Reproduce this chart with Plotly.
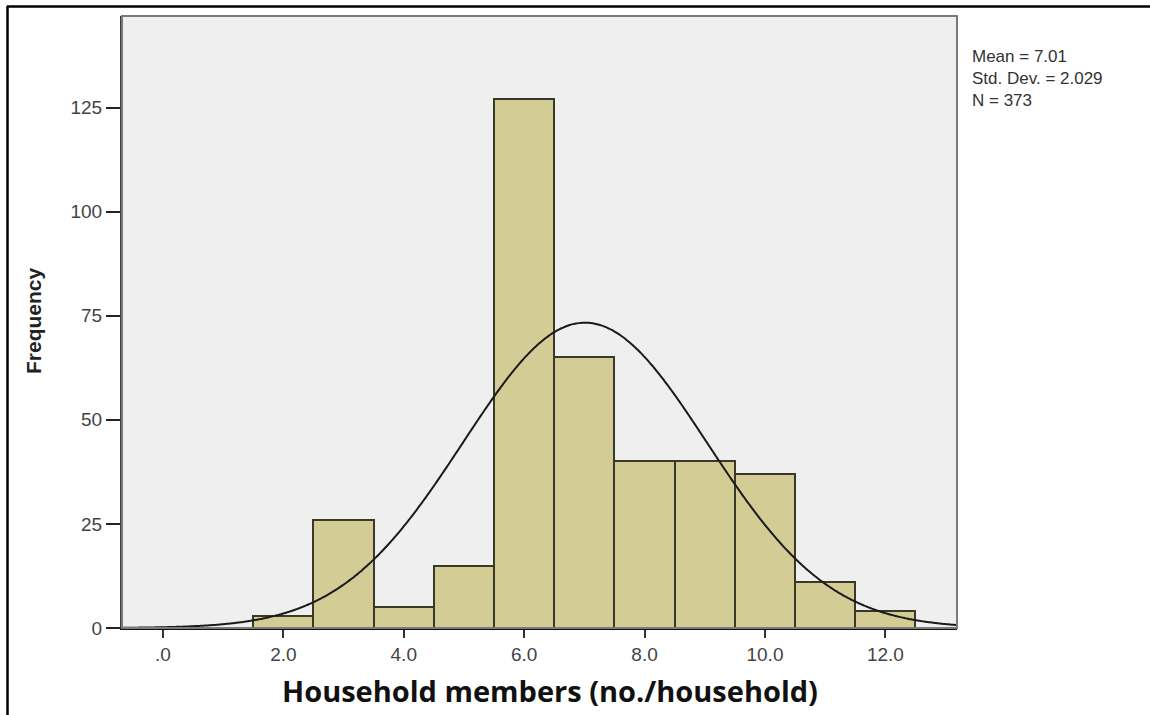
import numpy as np
import plotly.graph_objects as go

# Histogram of household size: bin centres and counts
bin_centers = [2, 3, 4, 5, 6, 7, 8, 9, 10, 11, 12]
counts = [3, 26, 5, 15, 127, 65, 40, 40, 37, 11, 4]
bin_width = 1.0

# Summary statistics shown beside the plot
mean_val = 7.01
std_dev = 2.029
n_total = 373

x_tickvals = [0, 2, 4, 6, 8, 10, 12]
x_ticktext = [".0", "2.0", "4.0", "6.0", "8.0", "10.0", "12.0"]
y_tickvals = [0, 25, 50, 75, 100, 125]

x_range = [-0.68, 13.19]
y_range = [0, 147]

# Fitted normal curve scaled to counts
xs = np.linspace(x_range[0], x_range[1], 400)
ys = n_total * bin_width / (std_dev * np.sqrt(2 * np.pi)) * np.exp(-0.5 * ((xs - mean_val) / std_dev) ** 2)

fig = go.Figure()
fig.add_trace(go.Bar(
    x=bin_centers, y=counts, width=bin_width,
    marker=dict(color="#d3cd95", line=dict(color="#3a3826", width=2)),
    hoverinfo="x+y",
))
fig.add_trace(go.Scatter(
    x=xs, y=ys, mode="lines",
    line=dict(color="#1a1a1a", width=2, shape="spline"),
    hoverinfo="skip",
))

L, R, T, B = 122, 193, 16, 87
W, H = 1150, 715
pw, ph = W - L - R, H - T - B

def px_x(px):
    return (px - L) / pw

def px_y(py):
    return 1 - (py - T) / ph

stats_text = (f"Mean = {mean_val:.2f}<br>"
              f"Std. Dev. = {std_dev:.3f}<br>"
              f"N = {n_total}")

annotations = [
    dict(text=stats_text, xref="paper", yref="paper", x=px_x(970), y=px_y(45),
         xanchor="left", yanchor="top", align="left", showarrow=False,
         font=dict(size=17, color="#333333", family="Liberation Sans, Arial, sans-serif")),
    dict(text="<b>Household members (no./household)</b>",
         xref="paper", yref="paper", x=px_x(550), y=px_y(690),
         xanchor="center", yanchor="middle", showarrow=False,
         font=dict(family="Open Sans, sans-serif", size=29, color="#111111")),
    dict(text="<b>Frequency</b>",
         xref="paper", yref="paper", x=px_x(33), y=px_y(321),
         xanchor="center", yanchor="middle", showarrow=False, textangle=-90,
         font=dict(family="Liberation Sans Narrow, Liberation Sans, Arial, sans-serif",
                   size=21, color="#222222")),
]

fig.update_layout(
    width=W, height=H,
    margin=dict(l=L, r=R, t=T, b=B, pad=0),
    paper_bgcolor="white",
    plot_bgcolor="#efefef",
    showlegend=False,
    bargap=0,
    font=dict(family="Liberation Sans, Arial, sans-serif", color="#3a3a3a"),
    xaxis=dict(
        range=x_range, tickvals=x_tickvals, ticktext=x_ticktext,
        showgrid=False, zeroline=False,
        showline=True, linecolor="#111111", linewidth=2,
        ticks="outside", ticklen=8, tickwidth=2, tickcolor="#333333",
        tickfont=dict(size=19, color="#444444"),
    ),
    yaxis=dict(
        range=y_range, tickvals=y_tickvals,
        showgrid=False, zeroline=False,
        showline=True, linecolor="#3c3c3c", linewidth=2,
        ticks="outside", ticklen=14, tickwidth=2, tickcolor="#222222",
        tickfont=dict(size=19, color="#444444"),
    ),
    shapes=[
        # plot frame
        dict(type="rect", xref="paper", yref="paper", x0=0, x1=1, y0=0, y1=1,
             line=dict(color="#7a7a7a", width=2), layer="above"),
        # outer figure frame (top and left edges)
        dict(type="line", xref="paper", yref="paper",
             x0=px_x(7), x1=px_x(1150), y0=px_y(6.5), y1=px_y(6.5),
             line=dict(color="#000000", width=2.5)),
        dict(type="line", xref="paper", yref="paper",
             x0=px_x(7.5), x1=px_x(7.5), y0=px_y(6), y1=px_y(715),
             line=dict(color="#000000", width=2.5)),
    ],
    annotations=annotations,
)

fig.write_html("out.html")
